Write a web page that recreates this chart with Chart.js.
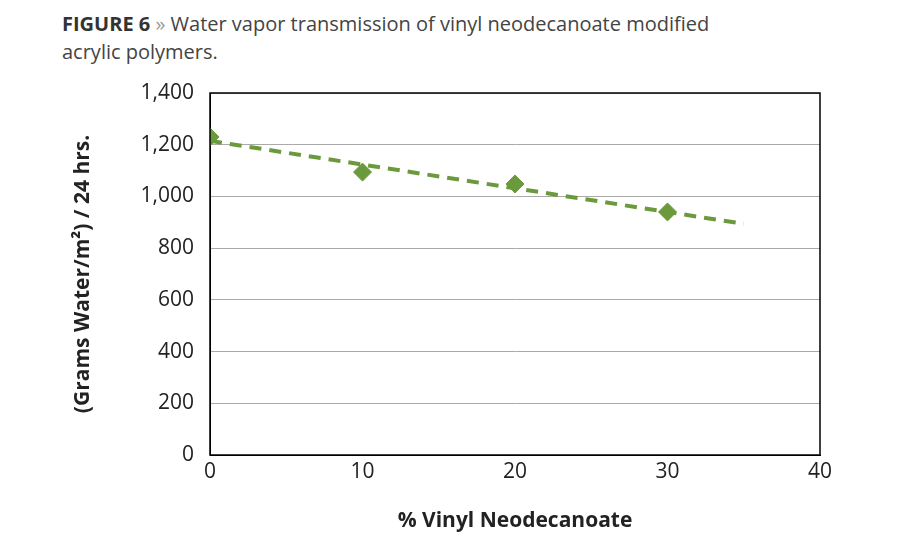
<!DOCTYPE html>
<html>
<head>
<meta charset="utf-8">
<script src="https://cdn.jsdelivr.net/npm/chart.js@4"></script>
<style>
  body { margin: 0; background: #fff; font-family: "Open Sans", sans-serif; }
  #wrap { position: relative; width: 900px; height: 550px; }
  #title { position: absolute; left: 62px; top: 10px; font-size: 20px; line-height: 28px; color: #444; }
  #title b { color: #333; }
  canvas { position: absolute; left: 0; top: 0; }
</style>
</head>
<body>
<div id="wrap">
  <div id="title"><b>FIGURE 6</b> <span style="color:#999">»</span> Water vapor transmission of vinyl neodecanoate modified<br>acrylic polymers.</div>
  <canvas id="c" width="900" height="550"></canvas>
</div>
<script>
const vinylPct = [0, 10, 20, 30];
const wvt = [1230, 1094, 1048, 940];
const trendX = [0, 35];
const trendY = [1215, 894];
const green = "#6b9a3c";

const ctx = document.getElementById("c").getContext("2d");
new Chart(ctx, {
  type: "scatter",
  data: {
    datasets: [
      {
        data: vinylPct.map((x, i) => ({ x, y: wvt[i] })),
        pointStyle: "rectRot", pointRadius: 9, backgroundColor: green, borderColor: green
      },
      {
        type: "line",
        data: trendX.map((x, i) => ({ x, y: trendY[i] })),
        borderColor: green, borderWidth: 4, borderDash: [12, 8], pointRadius: 0, fill: false
      }
    ]
  },
  options: {
    responsive: false, animation: false,
    layout: { padding: { left: 66, right: 80, top: 93, bottom: 12 } },
    plugins: { legend: { display: false }, tooltip: { enabled: false } },
    scales: {
      x: {
        min: 0, max: 40,
        ticks: { stepSize: 10, padding: 4, color: "#222", font: { family: "Open Sans", size: 21 } },
        grid: { display: false, drawTicks: false },
        border: { color: "#000" },
        title: { display: true, text: "% Vinyl Neodecanoate", color: "#222", font: { family: "Open Sans", size: 21, weight: "bold" } },
        afterFit: s => { s.height = 83; }
      },
      y: {
        min: 0, max: 1400,
        ticks: { stepSize: 200, padding: 16, color: "#222", font: { family: "Open Sans", size: 21 },
          callback: v => v.toLocaleString("en-US") },
        grid: { color: "#aaa", drawTicks: false },
        border: { color: "#000" },
        title: { display: true, text: "(Grams Water/m²) / 24 hrs.", color: "#222", font: { family: "Open Sans", size: 21, weight: "bold" } },
        afterFit: s => { s.width = 144; }
      }
    }
  },
  plugins: [{
    id: "box",
    afterDraw(chart) {
      const a = chart.chartArea, c = chart.ctx;
      c.save(); c.strokeStyle = "#000"; c.lineWidth = 1.5;
      c.strokeRect(a.left, a.top, a.right - a.left, a.bottom - a.top);
      c.restore();
    }
  }]
});
</script>
</body>
</html>
